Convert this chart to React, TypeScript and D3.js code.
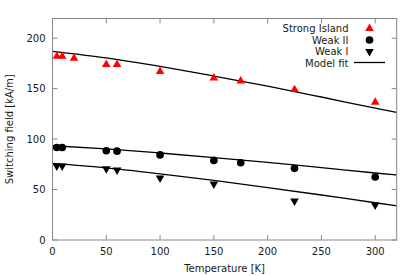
import * as d3 from 'd3';
import React, { useEffect, useRef } from 'react';

// measured points
const temps = [4, 9, 20, 50, 60, 100, 150, 175, 225, 300];
const strongIsland = [182, 182, 180, 174, 174, 167, 160.5, 157.5, 149, 136.6];

const weakIITemps = [4, 9, 50, 60, 100, 150, 175, 225, 300];
const weakII = [91.7, 91.7, 88.4, 88, 84.3, 78.9, 76.6, 71, 62.4];

const weakITemps = [4, 9, 50, 60, 100, 150, 225, 300];
const weakI = [73.3, 73.3, 70.6, 69.3, 61.4, 55.4, 38.6, 34.7];

// model fit curves
const fitTemps = [0, 50, 100, 150, 200, 250, 300, 320];
const fitStrong = [187, 180.5, 172, 162.5, 152.5, 141.7, 130.6, 126.4];
const fitWeakII = [93.4, 90.3, 86.2, 81.7, 76.9, 71.7, 66.4, 64.4];
const fitWeakI = [75.9, 71.4, 65.5, 59, 52, 44.6, 36.9, 34];

const xTicks = [0, 50, 100, 150, 200, 250, 300];
const yTicks = [0, 50, 100, 150, 200];
const legendLabels = ['Strong Island', 'Weak II', 'Weak I', 'Model fit'];

const App = () => {
  const svgRef = useRef(null);

  useEffect(() => {
    const svg = d3.select(svgRef.current);
    svg.selectAll('*').remove();

    const left = 52.5;
    const right = 396.7;
    const top = 18.5;
    const bottom = 240;
    const font = 'DejaVu Sans, sans-serif';
    const fs = 10;
    const textColor = '#1a1a1a';
    const frameColor = '#888';

    const x = d3.scaleLinear().domain([0, 320]).range([left, right]);
    const y = d3.scaleLinear().domain([0, 219.5]).range([bottom, top]);

    // ticks (inward, mirrored)
    const tk = 5;
    const g = svg.append('g').attr('stroke', frameColor).attr('stroke-width', 1);
    xTicks.forEach((t) => {
      g.append('line').attr('x1', x(t)).attr('x2', x(t)).attr('y1', bottom).attr('y2', bottom - tk);
      g.append('line').attr('x1', x(t)).attr('x2', x(t)).attr('y1', top).attr('y2', top + tk);
    });
    yTicks.forEach((t) => {
      g.append('line').attr('x1', left).attr('x2', left + tk).attr('y1', y(t)).attr('y2', y(t));
      g.append('line').attr('x1', right).attr('x2', right - tk).attr('y1', y(t)).attr('y2', y(t));
    });

    // tick labels
    svg
      .selectAll('.xlab')
      .data(xTicks)
      .enter()
      .append('text')
      .attr('x', (d) => x(d))
      .attr('y', 255.3)
      .attr('text-anchor', 'middle')
      .attr('font-family', font)
      .attr('font-size', fs)
      .attr('fill', textColor)
      .text((d) => d);

    svg
      .selectAll('.ylab')
      .data(yTicks)
      .enter()
      .append('text')
      .attr('x', 45.5)
      .attr('y', (d) => y(d) + 3.7)
      .attr('text-anchor', 'end')
      .attr('font-family', font)
      .attr('font-size', fs)
      .attr('fill', textColor)
      .text((d) => d);

    svg
      .append('text')
      .attr('x', (left + right) / 2)
      .attr('y', 271.5)
      .attr('text-anchor', 'middle')
      .attr('font-family', font)
      .attr('font-size', fs)
      .attr('fill', textColor)
      .text('Temperature [K]');

    svg
      .append('text')
      .attr('transform', `translate(12.5,${(top + bottom) / 2}) rotate(-90)`)
      .attr('text-anchor', 'middle')
      .attr('font-family', font)
      .attr('font-size', fs)
      .attr('fill', textColor)
      .text('Switching field [kA/m]');

    // fit lines
    const line = d3
      .line<number>()
      .x((d, i) => x(fitTemps[i]))
      .y((d) => y(d))
      .curve(d3.curveMonotoneX);

    [fitStrong, fitWeakII, fitWeakI].forEach((f) => {
      svg
        .append('path')
        .attr('d', line(f))
        .attr('fill', 'none')
        .attr('stroke', '#000')
        .attr('stroke-width', 1.3);
    });

    const triUp = d3.symbol().type(d3.symbolTriangle).size(32);
    const circ = d3.symbol().type(d3.symbolCircle).size(46);

    svg
      .selectAll('.strong')
      .data(strongIsland)
      .enter()
      .append('path')
      .attr('d', triUp)
      .attr('transform', (d, i) => `translate(${x(temps[i])},${y(d)})`)
      .attr('fill', '#ff0000');

    svg
      .selectAll('.weak2')
      .data(weakII)
      .enter()
      .append('path')
      .attr('d', circ)
      .attr('transform', (d, i) => `translate(${x(weakIITemps[i])},${y(d)})`)
      .attr('fill', '#000');

    svg
      .selectAll('.weak1')
      .data(weakI)
      .enter()
      .append('path')
      .attr('d', triUp)
      .attr('transform', (d, i) => `translate(${x(weakITemps[i])},${y(d)}) rotate(180)`)
      .attr('fill', '#000');

    // legend
    const lx = 348.5;
    const sx = 369.5;
    const rows = [28.5, 40, 51.5, 63];
    legendLabels.forEach((lab, i) => {
      svg
        .append('text')
        .attr('x', lx)
        .attr('y', rows[i] + 3.6)
        .attr('text-anchor', 'end')
        .attr('font-family', font)
        .attr('font-size', fs)
        .attr('fill', textColor)
        .text(lab);
    });
    svg.append('path').attr('d', triUp).attr('transform', `translate(${sx},${rows[0]})`).attr('fill', '#ff0000');
    svg.append('path').attr('d', circ).attr('transform', `translate(${sx},${rows[1]})`).attr('fill', '#000');
    svg
      .append('path')
      .attr('d', triUp)
      .attr('transform', `translate(${sx},${rows[2]}) rotate(180)`)
      .attr('fill', '#000');
    svg
      .append('line')
      .attr('x1', 354)
      .attr('x2', 385)
      .attr('y1', rows[3] - 0.5)
      .attr('y2', rows[3] - 0.5)
      .attr('stroke', '#000')
      .attr('stroke-width', 1.3);

    // frame
    svg
      .append('rect')
      .attr('x', left)
      .attr('y', top)
      .attr('width', right - left)
      .attr('height', bottom - top)
      .attr('fill', 'none')
      .attr('stroke', frameColor)
      .attr('stroke-width', 1);
  }, []);

  return (
    <svg
      ref={svgRef}
      width={415}
      height={276}
      style={{ position: 'absolute', left: 0, top: 0, background: '#fff' }}
    ></svg>
  );
};

export default App;
